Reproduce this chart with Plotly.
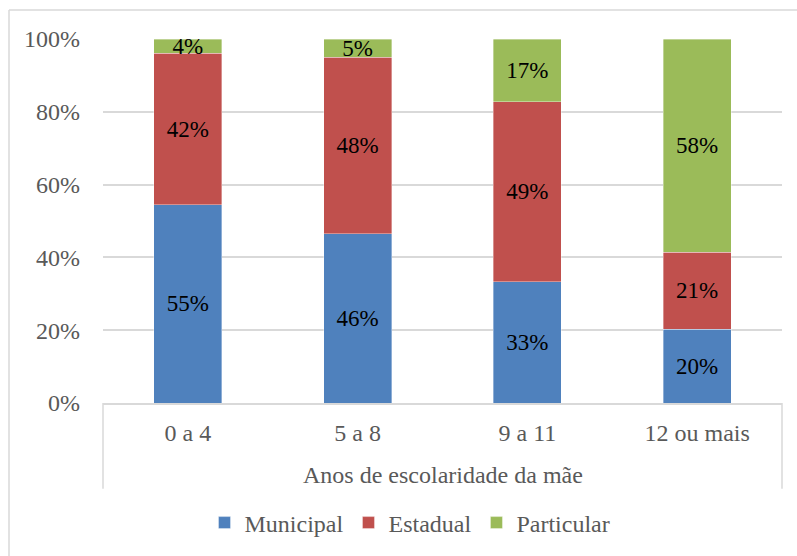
import plotly.graph_objects as go

# Share of students by school network, grouped by mother's years of schooling
categorias = ["0 a 4", "5 a 8", "9 a 11", "12 ou mais"]
municipal = [55, 46, 33, 20]
estadual = [42, 48, 49, 21]
particular = [4, 5, 17, 58]

series = [
    ("Municipal", municipal, "#4F81BD"),
    ("Estadual", estadual, "#C0504D"),
    ("Particular", particular, "#9BBB59"),
]

FONT = "Liberation Serif, Times New Roman, serif"
AXIS_SIZE = 24

fig = go.Figure()
for nome, valores, cor in series:
    fig.add_trace(go.Bar(
        name=nome,
        x=categorias,
        y=valores,
        marker=dict(color=cor, line=dict(color="rgba(255,255,255,0.6)", width=0.6)),
        width=0.4,
        text=[f"{v}%" for v in valores],
        textposition="inside",
        insidetextanchor="middle",
        constraintext="none",
        textangle=0,
        textfont=dict(family=FONT, size=23, color="#000000"),
        hoverinfo="skip",
    ))

W, H = 797, 556
L, R, T, B = 103, 15, 39, 152
pw, ph = W - L - R, H - T - B

def px(x):
    return (x - L) / pw

def py(y):
    return (H - B - y) / ph

shapes = [
    # separators of the category axis, running down past the group label
    dict(type="line", xref="paper", yref="paper", x0=0, x1=0, y0=0, y1=py(490),
         line=dict(color="#D9D9D9", width=1.5)),
    dict(type="line", xref="paper", yref="paper", x0=1, x1=1, y0=0, y1=py(490),
         line=dict(color="#D9D9D9", width=1.5)),
    # outer frame of the chart
    dict(type="line", xref="paper", yref="paper", x0=px(9), x1=px(800), y0=py(10), y1=py(10),
         line=dict(color="#D9D9D9", width=1.5)),
    dict(type="line", xref="paper", yref="paper", x0=px(9), x1=px(9), y0=py(10), y1=py(560),
         line=dict(color="#D9D9D9", width=1.5)),
]

fig.update_layout(
    width=W, height=H,
    margin=dict(l=L, r=R, t=T, b=B, pad=0),
    barmode="stack",
    barnorm="percent",
    plot_bgcolor="white",
    paper_bgcolor="white",
    font=dict(family=FONT, size=AXIS_SIZE, color="#595959"),
    showlegend=True,
    legend=dict(
        orientation="h",
        x=px(410), xanchor="center",
        y=py(523), yanchor="middle",
        font=dict(family=FONT, size=AXIS_SIZE, color="#595959"),
        itemwidth=30,
        traceorder="normal",
    ),
    shapes=shapes,
    annotations=[
        dict(text="Anos de escolaridade da mãe", xref="paper", yref="paper",
             x=0.5, y=py(476), xanchor="center", yanchor="middle", showarrow=False,
             font=dict(family=FONT, size=AXIS_SIZE, color="#595959")),
    ],
)

fig.update_xaxes(
    showgrid=False,
    showline=True, linecolor="#D9D9D9", linewidth=1.5,
    ticks="",
    tickfont=dict(family=FONT, size=AXIS_SIZE, color="#595959"),
    ticklabelstandoff=7,
)
fig.update_yaxes(
    range=[0, 100],
    tickvals=[0, 20, 40, 60, 80, 100],
    ticktext=["0%", "20%", "40%", "60%", "80%", "100%"],
    showgrid=True, gridcolor="#D9D9D9", gridwidth=1.5,
    zeroline=False,
    showline=False,
    ticks="",
    tickfont=dict(family=FONT, size=AXIS_SIZE, color="#595959"),
    ticklabelstandoff=22,
)

fig.write_html("out.html")
